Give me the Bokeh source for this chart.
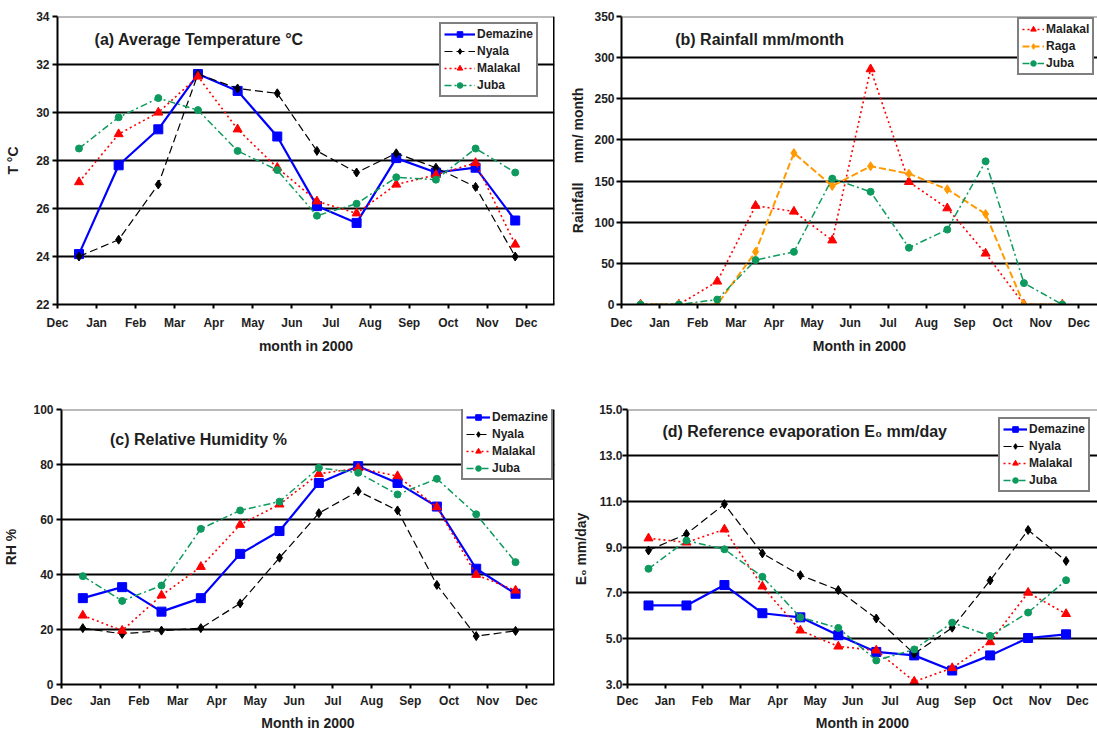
from bokeh.plotting import figure
from bokeh.layouts import column, row
from bokeh.models import Range1d, FixedTicker, Span, Label, Legend, LegendItem, NumeralTickFormatter
from bokeh.embed import file_html
from bokeh.resources import INLINE

# ---------------- data ----------------
month_ticks = ["Dec", "Jan", "Feb", "Mar", "Apr", "May", "Jun", "Jul", "Aug", "Sep", "Oct", "Nov", "Dec"]

temp_demazine = [24.1, 27.8, 29.3, 31.6, 30.9, 29.0, 26.1, 25.4, 28.1, 27.5, 27.7, 25.5]
temp_nyala    = [24.0, 24.7, 27.0, 31.6, 31.0, 30.8, 28.4, 27.5, 28.3, 27.7, 26.9, 24.0]
temp_malakal  = [27.1, 29.1, 30.0, 31.5, 29.3, 27.7, 26.3, 25.8, 27.0, 27.4, 27.9, 24.5]
temp_juba     = [28.5, 29.8, 30.6, 30.1, 28.4, 27.6, 25.7, 26.2, 27.3, 27.2, 28.5, 27.5]

rain_malakal = [0, 0, 28, 120, 113, 78, 286, 149, 117, 62, 0, 0]
rain_raga    = [0, 0, 0, 64, 184, 144, 168, 159, 140, 110, 0, 0]
rain_juba    = [0, 0, 6, 54, 64, 153, 137, 69, 91, 174, 26, 0]

rh_demazine = [31.4, 35.4, 26.5, 31.4, 47.5, 55.8, 73.3, 79.4, 73.3, 64.7, 42.1, 33.0]
rh_nyala    = [20.5, 18.4, 19.6, 20.5, 29.5, 46.1, 62.3, 70.3, 63.3, 36.2, 17.6, 19.5]
rh_malakal  = [25.1, 19.6, 32.4, 42.8, 58.1, 65.5, 76.6, 78.7, 75.8, 64.5, 39.9, 34.2]
rh_juba     = [39.4, 30.4, 36.0, 56.6, 63.3, 66.5, 78.8, 77.0, 69.1, 74.8, 61.9, 44.5]

eo_demazine = [6.45, 6.45, 7.34, 6.11, 5.93, 5.15, 4.42, 4.27, 3.61, 4.27, 5.03, 5.19]
eo_nyala    = [8.85, 9.57, 10.87, 8.72, 7.77, 7.12, 5.88, 4.34, 5.48, 7.54, 9.74, 8.39]
eo_malakal  = [9.38, 9.20, 9.77, 7.28, 5.36, 4.66, 4.49, 3.13, 3.72, 4.85, 7.01, 6.08]
eo_juba     = [8.05, 9.28, 8.90, 7.70, 5.93, 5.47, 4.05, 4.53, 5.70, 5.12, 6.14, 7.55]

# ---------------- styles ----------------
FONT = "Liberation Sans"
INK = "#1e1e1e"

STYLE = {
    "Demazine": dict(color="#0000FF", dash="solid", lw=2.2, marker="square", size=9),
    "Nyala":    dict(color="#000000", dash="8 4", lw=1.2, marker="diamond", size=9),
    "Malakal":  dict(color="#FF0000", dash="2 3", lw=1.6, marker="triangle", size=9),
    "Juba":     dict(color="#0E9A5E", dash="7 3 2 3", lw=1.5, marker="circle", size=7),
    "Raga":     dict(color="#FF9A00", dash="7 3", lw=2.0, marker="diamond", size=9),
}


def month_x(start, step):
    return [start + step * k for k in range(12)]


def panel(width, height, bl, br, bt, bb, xend, ymin, ymax, yticks, right_border,
          tick_standoff_y, ylab_standoff, xtick_standoff, xlab_standoff):
    p = figure(width=width, height=height, output_backend="svg", toolbar_location=None,
               x_range=Range1d(0, xend), y_range=Range1d(ymin, ymax),
               min_border_left=bl, min_border_right=br, min_border_top=bt, min_border_bottom=bb)
    p.outline_line_color = None
    p.background_fill_color = "white"
    p.border_fill_color = "white"
    p.xgrid.visible = False
    p.ygrid.ticker = FixedTicker(ticks=yticks[1:-1])
    p.ygrid.grid_line_color = "black"
    p.ygrid.grid_line_width = 2

    p.xaxis.ticker = FixedTicker(ticks=list(range(13)))
    p.xaxis.major_label_overrides = {i: lab for i, lab in enumerate(month_ticks)}
    p.yaxis.ticker = FixedTicker(ticks=yticks)
    for ax in (p.xaxis[0], p.yaxis[0]):
        ax.axis_line_color = "black"
        ax.axis_line_width = 2
        ax.major_tick_line_color = "black"
        ax.major_tick_line_width = 2
        ax.major_tick_in = 0
        ax.minor_tick_line_color = None
        ax.major_label_text_font = FONT
        ax.major_label_text_font_size = "12px"
        ax.major_label_text_font_style = "bold"
        ax.major_label_text_color = INK
        ax.axis_label_text_font = FONT
        ax.axis_label_text_font_size = "14px"
        ax.axis_label_text_font_style = "bold"
        ax.axis_label_text_color = INK
    p.xaxis.major_tick_out = 4
    p.yaxis.major_tick_out = 5
    p.yaxis.major_label_standoff = tick_standoff_y
    p.yaxis.axis_label_standoff = ylab_standoff
    p.xaxis.major_label_standoff = xtick_standoff
    p.xaxis.axis_label_standoff = xlab_standoff

    p.add_layout(Span(location=ymax, dimension="width", line_color="#777777", line_width=2))
    if right_border:
        p.add_layout(Span(location=xend, dimension="height", line_color="black", line_width=3))
    return p


def add_series(p, xs, series, loc, glyph_w):
    items = []
    for name, ys in series:
        st = STYLE[name]
        rl = p.line(xs, ys, line_color=st["color"], line_width=st["lw"], line_dash=st["dash"])
        rs = p.scatter(xs, ys, marker=st["marker"], size=st["size"],
                       fill_color=st["color"], line_color=st["color"])
        items.append(LegendItem(label=name, renderers=[rl, rs]))
    lg = Legend(items=items, location=loc)
    lg.border_line_color = "black"
    lg.border_line_width = 2
    lg.background_fill_color = "white"
    lg.background_fill_alpha = 1
    lg.label_text_font = FONT
    lg.label_text_font_size = "12px"
    lg.label_text_font_style = "bold"
    lg.label_text_color = INK
    lg.label_height = 14
    lg.glyph_height = 14
    lg.glyph_width = glyph_w
    lg.label_standoff = 2
    lg.spacing = 3
    lg.padding = 3
    lg.margin = 0
    p.add_layout(lg)


def title(p, x, y, text):
    p.add_layout(Label(x=x, y=y, text=text, text_font=FONT, text_font_size="16px",
                       text_font_style="bold", text_color=INK, text_baseline="middle"))


TOP_H = 376
BOT_H = 358

# ---------------- (a) temperature ----------------
pa = panel(560, TOP_H, 57, 6, 16, 72, 12.72, 22, 34, [22, 24, 26, 28, 30, 32, 34], True, 3, 12, 7, 5)
pa.xaxis.axis_label = "month in 2000"
pa.yaxis.axis_label = "T °C"
add_series(pa, month_x(0.55, 1.015),
           [("Demazine", temp_demazine), ("Nyala", temp_nyala),
            ("Malakal", temp_malakal), ("Juba", temp_juba)], (382, 207), 31)
title(pa, 0.95, 33.04, "(a) Average Temperature °C")

# ---------------- (b) rainfall ----------------
pb = panel(537, TOP_H, 61, 0, 16, 72, 12.49, 0, 350, [0, 50, 100, 150, 200, 250, 300, 350], False, 2, 5, 7, 5)
pb.xaxis.axis_label = "Month in 2000"
pb.yaxis.axis_label = "Rainfall\u00a0\u00a0\u00a0\u00a0 mm/ month"
add_series(pb, month_x(0.5, 1.006),
           [("Malakal", rain_malakal), ("Raga", rain_raga), ("Juba", rain_juba)], (396, 229), 22)
title(pb, 1.41, 321.5, "(b) Rainfall mm/month")

# ---------------- (c) relative humidity ----------------
pc = panel(560, BOT_H, 57, 6, 33, 50, 12.72, 0, 100, [0, 20, 40, 60, 80, 100], True, 3, 11, 5, 4)
pc.xaxis.axis_label = "Month in 2000"
pc.yaxis.axis_label = "RH %"
add_series(pc, month_x(0.55, 1.015),
           [("Demazine", rh_demazine), ("Nyala", rh_nyala),
            ("Malakal", rh_malakal), ("Juba", rh_juba)], (400, 204), 24)
title(pc, 1.25, 89.2, "(c) Relative Humidity %")

# ---------------- (d) reference evaporation ----------------
pd_ = panel(537, BOT_H, 67, 0, 33, 50, 12.53, 3, 15, [3, 5, 7, 9, 11, 13, 15], False, 0, 7, 5, 4)
pd_.yaxis.formatter = NumeralTickFormatter(format="0.0")
pd_.xaxis.axis_label = "Month in 2000"
pd_.yaxis.axis_label = "E\u2080  mm/day"
add_series(pd_, month_x(0.56, 1.012),
           [("Demazine", eo_demazine), ("Nyala", eo_nyala),
            ("Malakal", eo_malakal), ("Juba", eo_juba)], (371, 192), 24)
title(pd_, 0.93, 14.02, "(d)  Reference evaporation E\u2080 mm/day")

layout = column(row(pa, pb), row(pc, pd_))

open("out.html", "w").write(file_html(layout, INLINE))
